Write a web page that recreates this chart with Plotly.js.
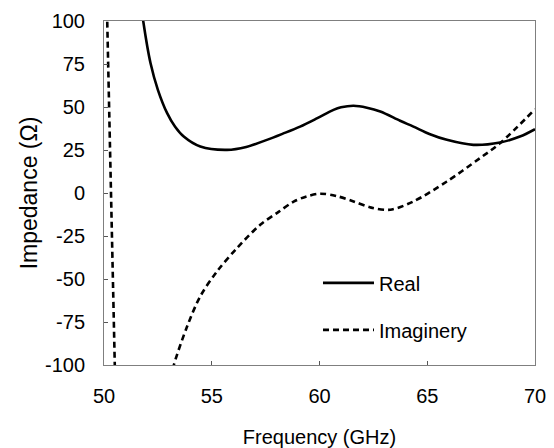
<!DOCTYPE html>
<html>
<head>
<meta charset="utf-8">
<script src="https://cdn.plot.ly/plotly-3.0.1.min.js"></script>
<style>html,body{margin:0;padding:0;background:#fff;}#chart{width:554px;height:448px;}</style>
</head>
<body>
<div id="chart"></div>
<script>
// Real part of impedance
const realFreq = [51.7, 51.82, 52.16, 52.5, 52.93, 53.3, 53.7, 54.47, 55.71, 56.6, 57.56, 58.3, 59.1, 59.9, 60.65, 61.0, 61.58, 62.2, 62.82, 63.74, 64.36, 65.1, 65.91, 67.14, 68.38, 69.3, 70];
const realVal  = [112, 100, 75.4, 60, 46.4, 38.5, 32.8, 27, 25.1, 26.8, 30.9, 34.5, 38.6, 43.5, 48.3, 49.8, 50.7, 49.6, 47.4, 42, 38.6, 34.3, 30.9, 28, 29.4, 32.8, 37.1];
// Imaginary part of impedance (pole near 50 GHz, gap between branches)
const imagFreq = [50.12, 50.15, 50.5, 50.53, null, 53.1, 53.24, 53.86, 54.47, 55.25, 56.17, 57.25, 58.1, 58.8, 59.4, 60.03, 60.8, 61.58, 62.4, 63.28, 64.36, 65.91, 67.45, 68.38, 70];
const imagVal  = [117, 100, -100, -117, null, -108, -100, -77.5, -60, -45.5, -32, -18.5, -11, -5, -2, -0.4, -1.8, -4.9, -8.5, -9.7, -4.9, 6.7, 20.3, 29, 48.7];
const xTicks = [50, 55, 60, 65, 70];
const yTicks = [-100, -75, -50, -25, 0, 25, 50, 75, 100];
const seriesNames = ['Real', 'Imaginery'];

const font = 'Arial, "Liberation Sans", sans-serif';

const traces = [
  {x: realFreq, y: realVal, name: seriesNames[0], mode: 'lines', line: {color: '#000', width: 2.6, shape: 'spline', smoothing: 0.9}, legendgroup: 'a'},
  {x: imagFreq, y: imagVal, name: seriesNames[1], mode: 'lines', line: {color: '#000', width: 2.6, dash: '6px,4px', shape: 'spline', smoothing: 0.9}, connectgaps: false, legendgroup: 'b'}
];

const axisCommon = {
  showgrid: false, zeroline: false, showline: true, mirror: true,
  linecolor: '#7f7f7f', linewidth: 1, ticks: 'inside', ticklen: 4, tickcolor: '#555', tickwidth: 1,
  tickfont: {family: font, size: 20, color: '#000'}
};

const layout = {
  width: 554, height: 448,
  margin: {l: 104, r: 19, t: 21, b: 83},
  paper_bgcolor: '#fff', plot_bgcolor: '#fff',
  showlegend: true,
  legend: {x: 0.4965, y: 0.2955, xanchor: 'left', yanchor: 'top', bgcolor: 'rgba(0,0,0,0)', itemwidth: 51,
    font: {family: font, size: 20, color: '#000'}, tracegroupgap: 18, traceorder: 'grouped'},
  xaxis: Object.assign({}, axisCommon, {range: [50, 70], tickvals: xTicks, ticktext: xTicks.map(String), ticklabelstandoff: 13,
    title: {text: 'Frequency (GHz)', font: {family: font, size: 20, color: '#000'}, standoff: 34}}),
  yaxis: Object.assign({}, axisCommon, {range: [-100, 100], tickvals: yTicks, ticktext: yTicks.map(String), ticklabelstandoff: 14,
    title: {text: 'Impedance (Ω)', font: {family: font, size: 23, color: '#000'}, standoff: 0}})
};

Plotly.newPlot('chart', traces, layout, {staticPlot: true, displayModeBar: false});
</script>
</body>
</html>
